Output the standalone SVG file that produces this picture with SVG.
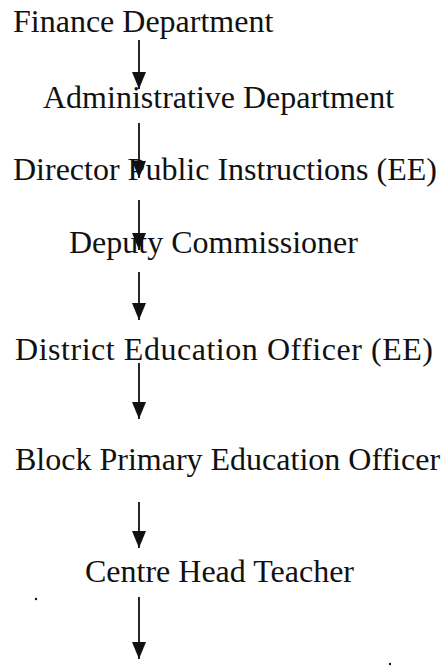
<svg xmlns="http://www.w3.org/2000/svg" width="443" height="669" viewBox="0 0 443 669">
<style>
text { font-family: "Liberation Serif", "Times New Roman", serif; font-size: 32px; fill: #111; }
.c { stroke: #111; stroke-width: 1.8; fill: none; }
</style>
<defs>
<marker id="ah" viewBox="0 0 17 14" refX="17" refY="7" markerWidth="17" markerHeight="14" markerUnits="userSpaceOnUse" orient="auto">
<path d="M0,0 L17,7 L0,14 z" fill="#111"/>
</marker>
</defs>
<rect width="443" height="669" fill="#fff"/>
<g id="connectors">
<line class="c" x1="139" y1="40" x2="139" y2="89" marker-end="url(#ah)"/>
<line class="c" x1="139" y1="123" x2="139" y2="178" marker-end="url(#ah)"/>
<line class="c" x1="139" y1="200" x2="139" y2="250" marker-end="url(#ah)"/>
<line class="c" x1="139" y1="272" x2="139" y2="320" marker-end="url(#ah)"/>
<line class="c" x1="139" y1="363" x2="139" y2="419" marker-end="url(#ah)"/>
<line class="c" x1="139" y1="502" x2="139" y2="548" marker-end="url(#ah)"/>
<line class="c" x1="139" y1="597" x2="139" y2="659" marker-end="url(#ah)"/>
</g>
<g id="finance"><text x="13" y="32">Finance Department</text></g>
<g id="admin"><text x="43" y="108">Administrative Department</text></g>
<g id="dpi"><text x="13" y="180">Director Public Instructions (EE)</text></g>
<g id="deputy"><text x="69" y="253">Deputy Commissioner</text></g>
<g id="deo"><text x="15" y="360" textLength="418">District Education Officer (EE)</text></g>
<g id="bpeo"><text x="15" y="470">Block Primary Education Officer</text></g>
<g id="cht"><text x="85" y="582">Centre Head Teacher</text></g>
<circle cx="36" cy="599" r="1.2" fill="#111"/>
<circle cx="390" cy="664" r="1.2" fill="#111"/>
</svg>
